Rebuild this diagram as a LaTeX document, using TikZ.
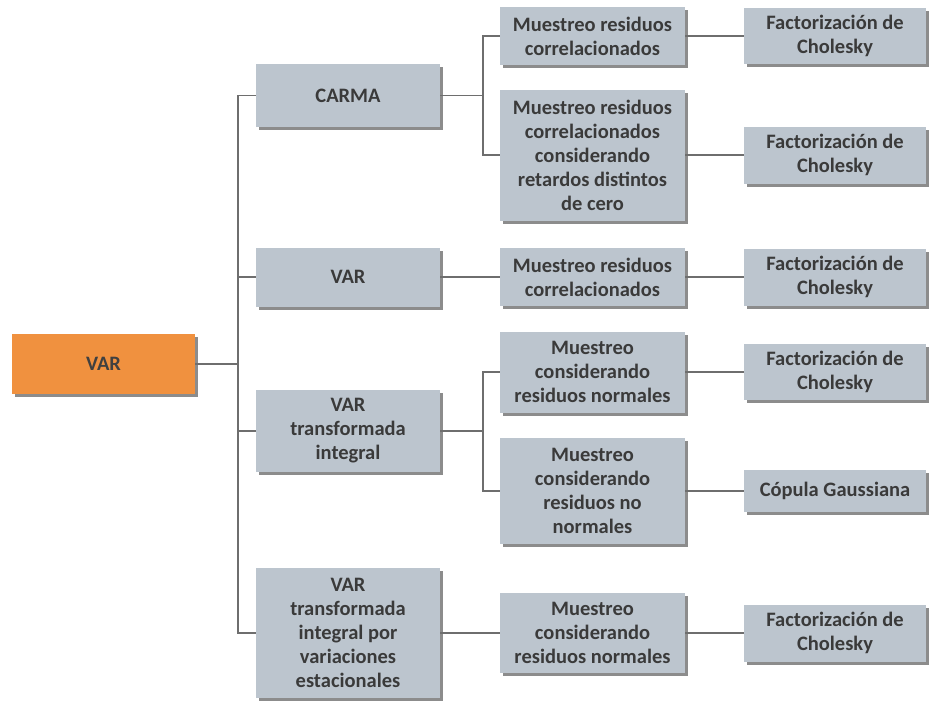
\documentclass[tikz,border=0pt]{standalone}
\usepackage{fontspec}
\setmainfont{Carlito}
\usetikzlibrary{shadows}
\definecolor{boxgray}{HTML}{BCC5CE}
\definecolor{rootorange}{HTML}{F0913F}
\definecolor{txtgray}{HTML}{3A3A3A}
\definecolor{linegray}{HTML}{6E6E6E}
\begin{document}
\begin{tikzpicture}[x=1pt,y=1pt,
  boxbase/.style={rectangle, inner sep=2pt, align=center, text=txtgray,
    font=\bfseries\fontsize{20.5}{24}\selectfont,
    drop shadow={shadow xshift=2.5pt, shadow yshift=-3pt, fill=black, opacity=0.45}},
  graybox/.style={boxbase, fill=boxgray},
  rootbox/.style={boxbase, fill=rootorange, text=black!75},
  link/.style={draw=linegray, line width=1.9pt}]
\useasboundingbox (0,0) rectangle (932,-702);

% root
\node[rootbox, minimum width=183pt, minimum height=60pt] (root) at (103.5,-364) {VAR};

% first level
\node[graybox, minimum width=184pt, minimum height=63pt] (carma) at (348,-95.5) {CARMA};
\node[graybox, minimum width=184pt, minimum height=59pt] (var) at (348,-277) {VAR};
\node[graybox, minimum width=184pt, minimum height=82pt] (vti) at (348,-431) {VAR\\transformada\\integral};
\node[graybox, minimum width=184pt, minimum height=130pt] (vtie) at (348,-633) {VAR\\transformada\\integral por\\variaciones\\estacionales};

% second level
\node[graybox, minimum width=185pt, minimum height=58pt] (m1) at (592.5,-36) {Muestreo residuos\\correlacionados};
\node[graybox, minimum width=185pt, minimum height=131pt] (m2) at (592.5,-155) {Muestreo residuos\\correlacionados\\considerando\\retardos distintos\\de cero};
\node[graybox, minimum width=185pt, minimum height=58pt] (m3) at (592.5,-277) {Muestreo residuos\\correlacionados};
\node[graybox, minimum width=185pt, minimum height=81pt] (m4) at (592.5,-372) {Muestreo\\considerando\\residuos normales};
\node[graybox, minimum width=185pt, minimum height=106pt] (m5) at (592.5,-491) {Muestreo\\considerando\\residuos no\\normales};
\node[graybox, minimum width=185pt, minimum height=80pt] (m6) at (592.5,-633) {Muestreo\\considerando\\residuos normales};

% third level
\node[graybox, minimum width=182pt, minimum height=56pt] (f1) at (835,-36) {Factorización de\\Cholesky};
\node[graybox, minimum width=182pt, minimum height=57pt] (f2) at (835,-155) {Factorización de\\Cholesky};
\node[graybox, minimum width=182pt, minimum height=57pt] (f3) at (835,-277) {Factorización de\\Cholesky};
\node[graybox, minimum width=182pt, minimum height=56pt] (f4) at (835,-372) {Factorización de\\Cholesky};
\node[graybox, minimum width=182pt, minimum height=42pt] (cop) at (835,-491) {Cópula Gaussiana};
\node[graybox, minimum width=182pt, minimum height=57pt] (f6) at (835,-633) {Factorización de\\Cholesky};

% junction points of the brackets
\coordinate (trunk) at (238,-364);
\coordinate (bcarma) at (483,-95.5);
\coordinate (bvti) at (483,-431);

% connectors
\draw[link] (root.east) -- (trunk);
\draw[link] (trunk) |- (carma.west);
\draw[link] (trunk) |- (var.west);
\draw[link] (trunk) |- (vti.west);
\draw[link] (trunk) |- (vtie.west);

\draw[link] (carma.east) -- (bcarma);
\draw[link] (bcarma) |- (m1.west);
\draw[link] (bcarma) |- (m2.west);
\draw[link] (var.east) -- (m3.west);
\draw[link] (vti.east) -- (bvti);
\draw[link] (bvti) |- (m4.west);
\draw[link] (bvti) |- (m5.west);
\draw[link] (vtie.east) -- (m6.west);

\draw[link] (m1.east) -- (f1.west);
\draw[link] (m2.east) -- (f2.west);
\draw[link] (m3.east) -- (f3.west);
\draw[link] (m4.east) -- (f4.west);
\draw[link] (m5.east) -- (cop.west);
\draw[link] (m6.east) -- (f6.west);
\end{tikzpicture}
\end{document}
